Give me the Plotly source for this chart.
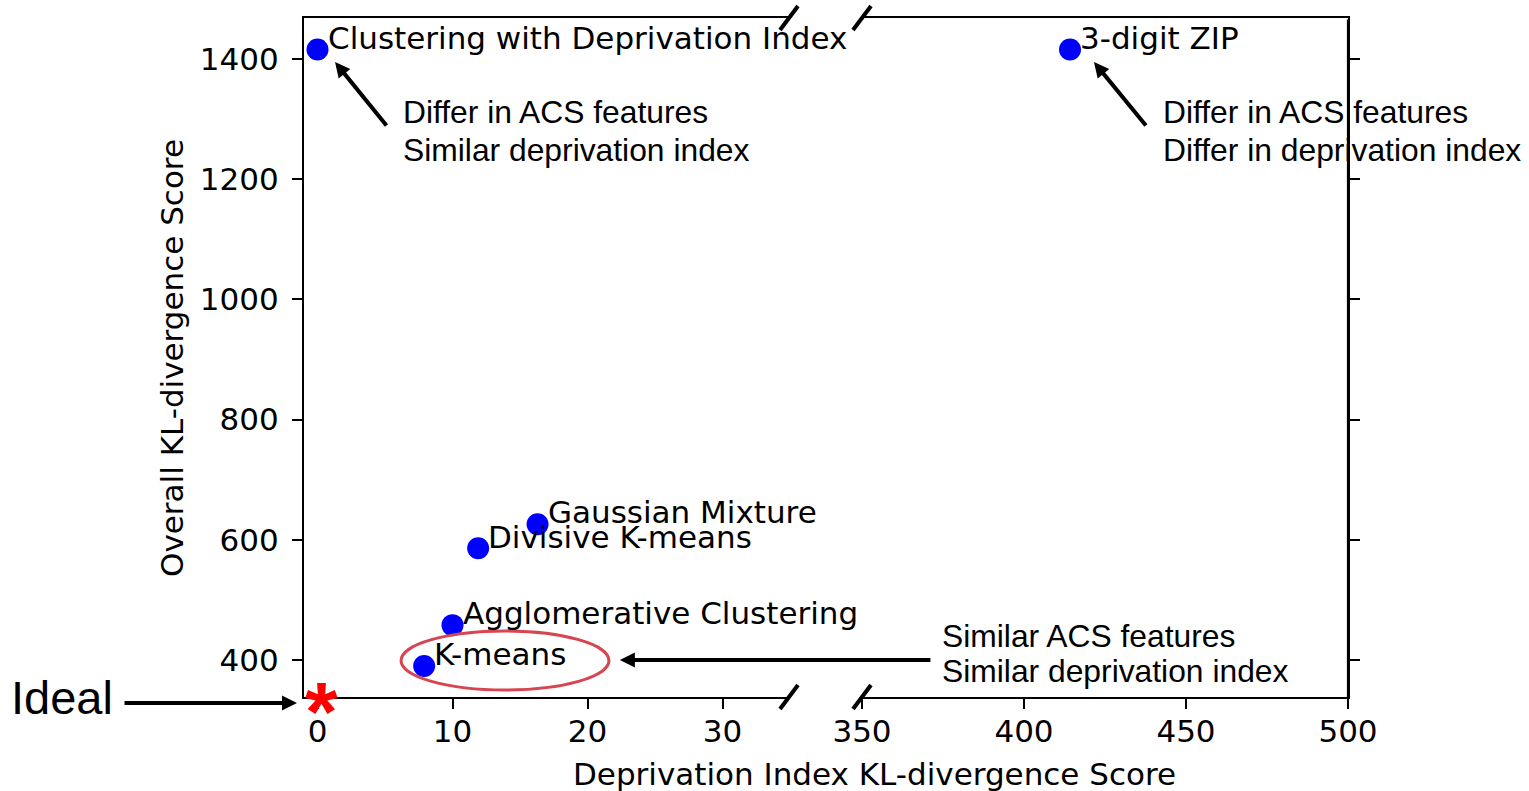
import plotly.graph_objects as go

# ---------------- data ----------------
left_names = ["Clustering with Deprivation Index", "Gaussian Mixture",
              "Divisive K-means", "Agglomerative Clustering", "K-means"]
left_dep = [0.0, 16.3, 11.9, 10.0, 7.9]          # Deprivation Index KL-divergence
left_overall = [1416, 626, 586, 458, 390]        # Overall KL-divergence

right_names = ["3-digit ZIP"]
right_dep = [414.2]
right_overall = [1416]

ideal_dep = 0
ideal_overall = 338.4

left_xticks = [0, 10, 20, 30]
right_xticks = [350, 400, 450, 500]
yticks = [400, 600, 800, 1000, 1200, 1400]
xlim_left = [-1, 35]
xlim_right = [350, 500]
ylim = [338.4, 1468.4]

# ---------------- style ----------------
DJ = "DejaVu Sans"
AR = "Liberation Sans"
FS = 31
FA = 31.8
LW = 2.2

fig = go.Figure()
fig.add_trace(go.Scatter(x=left_dep, y=left_overall, mode="markers",
                         marker=dict(size=22, color="#0000ff"),
                         xaxis="x", yaxis="y", showlegend=False, hoverinfo="skip"))
fig.add_trace(go.Scatter(x=right_dep, y=right_overall, mode="markers",
                         marker=dict(size=22, color="#0000ff"),
                         xaxis="x2", yaxis="y2", showlegend=False, hoverinfo="skip"))

axis_common = dict(showgrid=False, zeroline=False, showline=True, linewidth=LW,
                   linecolor="black", ticks="outside", ticklen=10, tickwidth=2,
                   tickcolor="black",
                   tickfont=dict(family=DJ, size=FS, color="black"))

D_LEFT = 486 / 1044
D_RIGHT = 558 / 1044

fig.update_layout(
    width=1529, height=791,
    margin=dict(l=304, r=181, t=18, b=94),
    paper_bgcolor="white", plot_bgcolor="white",
    xaxis=dict(domain=[0, D_LEFT], range=xlim_left, tickvals=left_xticks,
               anchor="y", mirror=True, ticklabelstandoff=-4, **axis_common),
    xaxis2=dict(domain=[D_RIGHT, 1], range=xlim_right, tickvals=right_xticks,
                anchor="y2", mirror=True, ticklabelstandoff=-4, **axis_common),
    yaxis=dict(range=ylim, tickvals=yticks, anchor="x", side="left",
               ticklabelstandoff=7, **axis_common),
    yaxis2=dict(range=ylim, tickvals=yticks, anchor="x2", side="right",
                matches="y", showticklabels=False, **axis_common),
)

ann = []
# point labels (baseline at the point centre)
for n, xv, yv in zip(left_names, left_dep, left_overall):
    ann.append(dict(x=xv, y=yv, xref="x", yref="y", text=n, showarrow=False,
                    xanchor="left", yanchor="bottom", xshift=8, yshift=-8.3,
                    font=dict(family=DJ, size=FS, color="black")))
for n, xv, yv in zip(right_names, right_dep, right_overall):
    ann.append(dict(x=xv, y=yv, xref="x2", yref="y2", text=n, showarrow=False,
                    xanchor="left", yanchor="bottom", xshift=8, yshift=-8.3,
                    font=dict(family=DJ, size=FS, color="black")))

# explanatory notes (one annotation per line)
notes = [
    ("x", "y", 6.2, 1292, "Differ in ACS features"),
    ("x", "y", 6.2, 1228, "Similar deprivation index"),
    ("x2", "y2", 442.4, 1292, "Differ in ACS features"),
    ("x2", "y2", 442.4, 1228, "Differ in deprivation index"),
    ("x2", "y2", 374.0, 419.0, "Similar ACS features"),
    ("x2", "y2", 374.0, 362, "Similar deprivation index"),
]
for xr, yr, xv, yv, t in notes:
    ann.append(dict(x=xv, y=yv, xref=xr, yref=yr, text=t, showarrow=False,
                    xanchor="left", yanchor="bottom", yshift=-7.8,
                    font=dict(family=AR, size=FA, color="black")))

# arrows
arrow = dict(showarrow=True, text="", arrowhead=2, arrowwidth=4, arrowsize=0.75,
             arrowcolor="black", standoff=0)
ann.append(dict(x=1.3, y=1395, xref="x", yref="y", ax=5.2, ay=1287,
                axref="x", ayref="y", **arrow))
ann.append(dict(x=421.6, y=1395, xref="x2", yref="y2", ax=438.0, ay=1287,
                axref="x2", ayref="y2", **arrow))
ann.append(dict(x=22.4, y=400, xref="x", yref="y", ax=312, ay=0, **arrow))
# arrow pointing at the Ideal marker (drawn outside the axes)
ann.append(dict(x=(297 - 304) / 1044, y=(697 - 703) / 679, xref="paper", yref="paper",
                ax=-174, ay=0, **arrow))

# Ideal label and marker
ann.append(dict(x=(9 - 304) / 1044, y=-0.0424, xref="paper", yref="paper",
                text="Ideal", showarrow=False, xanchor="left", yanchor="bottom",
                font=dict(family=AR, size=47, color="black")))
ann.append(dict(x=ideal_dep, y=ideal_overall, xref="x", yref="y", text="<b>*</b>",
                showarrow=False, xanchor="center", yanchor="middle",
                xshift=4, yshift=-14.8,
                font=dict(family=AR, size=84, color="#ff0000")))

# axis titles
ann.append(dict(x=(874 - 304) / 1044, y=(697 - 774) / 679, xref="paper", yref="paper",
                text="Deprivation Index KL-divergence Score", showarrow=False,
                xanchor="center", yanchor="middle",
                font=dict(family=DJ, size=FS, color="black")))
ann.append(dict(x=(172 - 304) / 1044, y=(697 - 358) / 679, xref="paper", yref="paper",
                text="Overall KL-divergence Score", showarrow=False, textangle=-90,
                xanchor="center", yanchor="middle",
                font=dict(family=DJ, size=FS, color="black")))

# right spine drawn over the text it crosses
ann.append(dict(x=1, y=0, xref="paper", yref="paper", ax=0, ay=-679,
                showarrow=True, text="", arrowhead=0, arrowwidth=LW,
                arrowcolor="black", standoff=0))

fig.update_layout(annotations=ann)

# ellipse around K-means
fig.add_shape(type="circle", xref="x", yref="y", x0=6.19, x1=21.59, y0=350, y1=448.2,
              line=dict(color="#d64550", width=3))

# broken-axis marks
dx, dy = 9 / 1044, 12 / 679
for xc in (D_LEFT - 1 / 1044, D_RIGHT):
    for yc in (0, 1):
        fig.add_shape(type="line", xref="paper", yref="paper",
                      x0=xc - dx, y0=yc - dy, x1=xc + dx, y1=yc + dy,
                      line=dict(color="black", width=4))

fig.write_html("out.html")
